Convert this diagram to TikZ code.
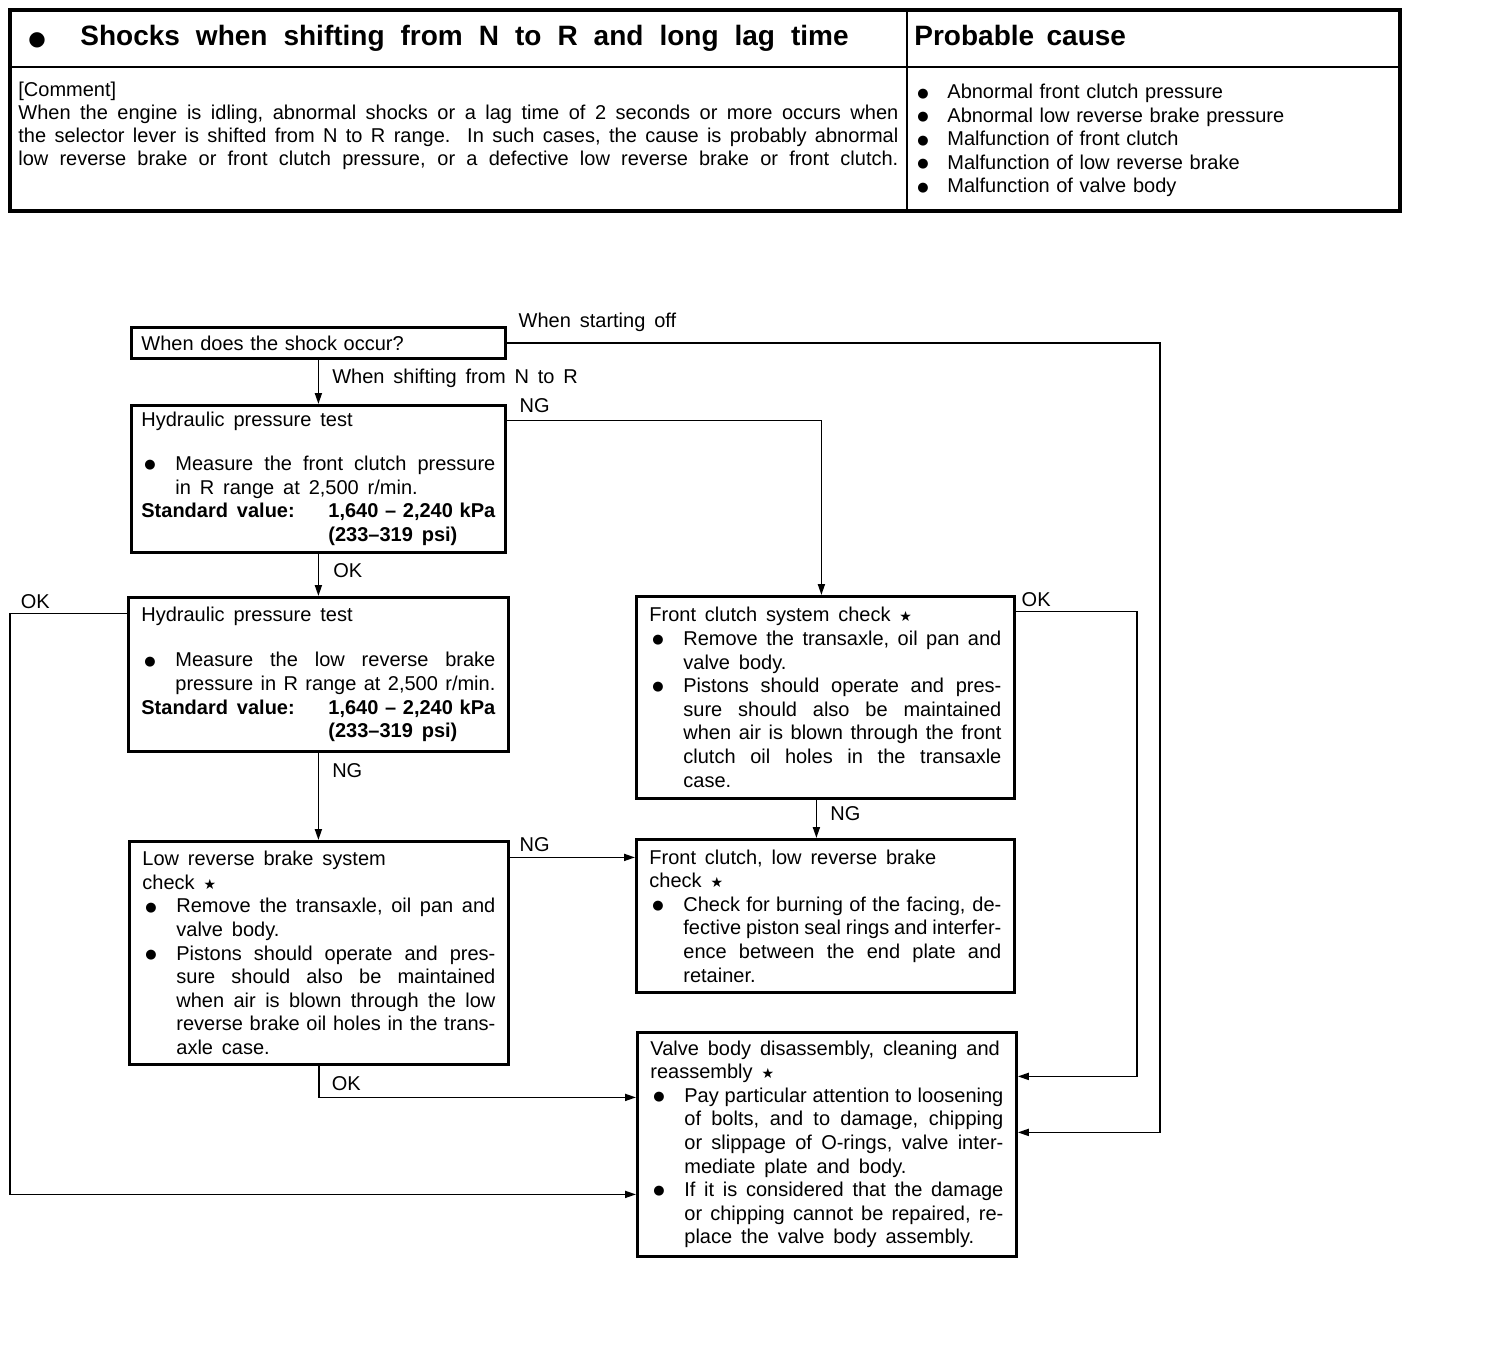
\documentclass[tikz,border=0pt]{standalone}
\usepackage{fontspec}
\setmainfont{Liberation Sans}[WordSpace={1.6,2,3}]
\newfontfamily\symfont{DejaVu Sans}
\usetikzlibrary{arrows.meta, positioning, calc}
\setlength{\parindent}{0pt}
\newcommand{\fstar}{{\symfont\fontsize{7}{7}\selectfont ★}}
\newcommand{\blt}{\raisebox{0.9pt}{\symfont\fontsize{6.5}{7}\selectfont ●}}
\newcommand{\bitem}[1][17pt]{\par\noindent\hangindent=#1\hangafter=1\makebox[#1][l]{\hspace{1.5pt}\blt}}
\newcommand{\stdval}[2]{\par\noindent\makebox[93.5pt][l]{\bfseries Standard value:}\textbf{#1}%
  \par\noindent\hspace*{93.5pt}\textbf{#2}}

\begin{document}
\begin{tikzpicture}[x=0.5pt, y=-0.5pt,
    box/.style  = {draw, line width=1.4pt, anchor=north west, align=justify,
                   inner xsep=6.5pt, inner ysep=2pt, text width=176.5pt,
                   font=\fontsize{10}{11.8}\selectfont},
    lbl/.style  = {font=\fontsize{10}{12}\selectfont, inner sep=0pt, anchor=base west},
    flow/.style = {-{Triangle[length=5.5pt, width=3.5pt]}, line width=0.9pt},
    rule/.style = {line width=1pt},
]

\useasboundingbox (0,0) rectangle (1488,1360);

% --- heading table --------------------------------------------------------
\draw[line width=1.6pt] (10,10) rectangle (1400,211);
\draw[rule] (10,67) -- (1400,67);
\draw[rule] (907,10) -- (907,211);

\node[anchor=base west, inner sep=0pt, font=\fontsize{14}{16}\bfseries\selectfont]
      (title) at (28,46)
      {\makebox[26pt][l]{\symfont\fontsize{10}{10}\selectfont ●}%
       {\spaceskip=8pt plus 2pt minus 1pt Shocks when shifting from N to R and long lag time}};
\node[anchor=base west, inner sep=0pt, font=\fontsize{14}{16}\bfseries\selectfont]
      (causehead) at (914,46) {Probable cause};

\node[anchor=north west, inner sep=0pt, text width=440pt, align=justify,
      font=\fontsize{10}{11.5}\selectfont] (comment) at (18,82)
      {\parfillskip=0pt [Comment]\\
       When the engine is idling, abnormal shocks or a lag time of 2 seconds or more occurs when\linebreak
       the selector lever is shifted from N to R range.\ \ In such cases, the cause is probably abnormal\linebreak
       low reverse brake or front clutch pressure, or a defective low reverse brake or front clutch.\par};

\node[anchor=north west, inner sep=0pt, text width=235pt, align=left,
      font=\fontsize{10}{11.75}\selectfont] (causes) at (914,75)
      {\bitem[16.5pt]Abnormal front clutch pressure
       \bitem[16.5pt]Abnormal low reverse brake pressure
       \bitem[16.5pt]Malfunction of front clutch
       \bitem[16.5pt]Malfunction of low reverse brake
       \bitem[16.5pt]Malfunction of valve body\par};

% --- check boxes ----------------------------------------------------------
\node[box, align=left, inner xsep=5pt, text width=177pt, minimum height=15.5pt]
      (q) at (130,326) {When does the shock occur?};

\node[box, inner xsep=5pt, text width=177pt, minimum height=73.5pt] (hp1) at (130,404)
      {Hydraulic pressure test\par\vspace{10pt}
       \bitem Measure the front clutch pressure\linebreak in R range at 2,500 r/min.
       \stdval{1,640 -- 2,240 kPa}{(233--319 psi)}\par};

\node[box, text width=177pt, minimum height=77pt] (hp2) at (127,596)
      {Hydraulic pressure test\par\vspace{11pt}
       \bitem Measure the low reverse brake\linebreak pressure in R range at 2,500 r/min.
       \stdval{1,640 -- 2,240 kPa}{(233--319 psi)}\par};

\node[box, text width=176pt, minimum height=101pt] (fc) at (635,595)
      {Front clutch system check \fstar
       \bitem Remove the transaxle, oil pan and\linebreak valve body.
       \bitem Pistons should operate and pres-\linebreak sure should also be maintained\linebreak
       when air is blown through the front\linebreak clutch oil holes in the transaxle\linebreak case.\par};

\node[box, minimum height=111.5pt] (lr) at (128,840)
      {Low reverse brake system\\check \fstar
       \bitem Remove the transaxle, oil pan and\linebreak valve body.
       \bitem Pistons should operate and pres-\linebreak sure should also be maintained\linebreak
       when air is blown through the low\linebreak reverse brake oil holes in the trans-\linebreak axle case.\par};

\node[box, text width=176pt, minimum height=76.5pt] (fl) at (635,838)
      {Front clutch, low reverse brake\\check \fstar
       \bitem Check for burning of the facing, de-\linebreak fective piston seal rings and interfer-\linebreak
       ence between the end plate and\linebreak retainer.\par};

\node[box, minimum height=112pt] (vb) at (636,1031)
      {Valve body disassembly, cleaning and\\reassembly \fstar
       \bitem Pay particular attention to loosening\linebreak of bolts, and to damage, chipping\linebreak
       or slippage of O-rings, valve inter-\linebreak mediate plate and body.
       \bitem If it is considered that the damage\linebreak or chipping cannot be repaired, re-\linebreak
       place the valve body assembly.\par};

% --- exits and rails of the long runs -------------------------------------
\coordinate (railq)  at (1160,0);
\coordinate (railok) at (10,0);
\coordinate (railfc) at (1137,0);
\coordinate (hp1ng) at ([yshift=29.25pt]hp1.east);
\coordinate (hp2ok) at ([yshift=30.5pt]hp2.west);
\coordinate (fcok)  at ([yshift=43pt]fc.east);
\coordinate (lrng)  at ([yshift=29.25pt]fl.west);

% --- connectors -----------------------------------------------------------
\draw[flow] (q.south) node[lbl, xshift=6.5pt, yshift=-12pt] {When shifting from N to R}
      -- (q.south |- hp1.north);
\draw[flow] (q.east) node[lbl, xshift=5.5pt, yshift=7.5pt] {When starting off}
      -- (q.east -| railq) |- ([yshift=6pt]vb.east);

\draw[flow] (hp1ng) node[lbl, xshift=6pt, yshift=4pt] {NG}
      -| ([xshift=-2pt]fc.north);
\draw[flow] (hp1.south) node[lbl, xshift=7pt, yshift=-12pt] {OK}
      -- (hp1.south |- hp2.north);

\draw[flow] (hp2ok) -- (hp2ok -| railok) node[lbl, xshift=5pt, yshift=2.5pt] {OK}
      |- ([yshift=-25pt]vb.west);
\draw[flow] (hp2.south) node[lbl, xshift=6.5pt, yshift=-12.5pt] {NG}
      -- (hp2.south |- lr.north);

\draw[flow] (fcok) node[lbl, xshift=2.5pt, yshift=2.5pt] {OK}
      -- (fcok -| railfc) |- ([yshift=34pt]vb.east);
\draw[flow] ([xshift=-4.5pt]fc.south) node[lbl, xshift=6.5pt, yshift=-10.5pt] {NG}
      -- ([xshift=-4.5pt]fl.north);

\draw[flow] (lrng -| lr.east) node[lbl, xshift=4.5pt, yshift=3pt] {NG}
      -- (lrng);
\draw[flow] (lr.south) node[lbl, xshift=6pt, yshift=-12.5pt] {OK}
      |- ([yshift=23.5pt]vb.west);

\end{tikzpicture}
\end{document}
